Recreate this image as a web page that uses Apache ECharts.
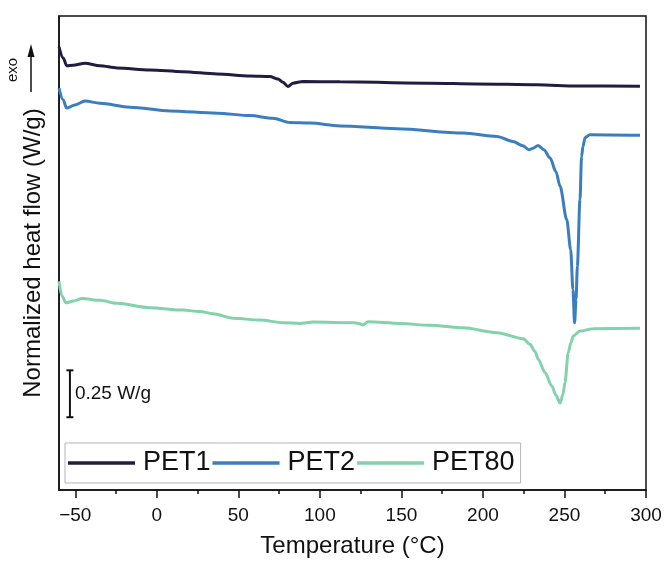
<!DOCTYPE html>
<html>
<head>
<meta charset="utf-8">
<script src="https://cdn.jsdelivr.net/npm/echarts@6/dist/echarts.min.js"></script>
<style>html,body{margin:0;padding:0;background:#fff}#c{width:665px;height:563px}</style>
</head>
<body>
<div id="c"></div>
<script>
// Temperature (°C) and normalized heat flow (W/g, offset for display)
const pet1T = [-60,-57.4,-55.3,-51.4,-44.1,-34.9,-24.4,-4.2,16.0,36.9,57.1,69.4,74.3,77.4,80.4,83.5,89.6,112.3,167.5,196.3,233.1,257.7,296.3];
const pet1V = [2.363,2.303,2.262,2.264,2.275,2.262,2.250,2.239,2.230,2.218,2.207,2.204,2.191,2.174,2.151,2.169,2.178,2.176,2.169,2.165,2.160,2.154,2.153];

const pet2T = [-60,-57.5,-55.3,-50.2,-44.1,-34.9,-16.5,8.1,36.9,57.1,71.2,81.7,93.9,112.3,147.3,187.8,208.6,218.4,224.5,228.2,230.7,233.8,237.4,241.1,244.8,247.3,251.4,253.8,255.2,256.2,257.1,257.9,259.5,260.5,261.3,262.6,265.6,296.3];
const pet2V = [2.142,2.080,2.036,2.053,2.074,2.062,2.041,2.021,2.009,1.996,1.982,1.959,1.956,1.941,1.926,1.903,1.885,1.858,1.835,1.814,1.822,1.837,1.814,1.771,1.697,1.619,1.441,1.282,1.069,0.891,1.016,1.193,1.548,1.778,1.830,1.878,1.894,1.891];

const pet80T = [-60,-58.2,-55.7,-51.4,-45.9,-34.9,-24.4,-4.2,16.0,26.5,34.4,46.7,63.3,77.4,87.8,95.8,121.5,124.6,126.4,129.5,149.1,167.5,187.8,208.6,224.6,228.9,231.9,233.9,238.1,242.2,244.8,247.3,249.1,250.3,252.3,254.0,255.4,259.5,267.5,296.3];
const pet80V = [1.113,1.034,0.998,1.007,1.021,1.011,0.995,0.972,0.959,0.951,0.940,0.916,0.906,0.892,0.888,0.895,0.892,0.886,0.879,0.897,0.888,0.878,0.865,0.839,0.807,0.777,0.739,0.697,0.626,0.555,0.505,0.463,0.511,0.573,0.732,0.787,0.821,0.847,0.860,0.862];

const seriesNames = ['PET1','PET2','PET80'];
const majorTicks = [-50,0,50,100,150,200,250,300];
const minorTicks = [-25,25,75,125,175,225,275];
const scaleBarValue = 0.25;   // W/g
const scaleBarLabel = '0.25 W/g';

const colors = ['#221d40','#3b7ec0','#82d2ab'];
const FONT = '"Liberation Sans", Arial, Helvetica, sans-serif';

function zip(t, v){ return t.map((x,i)=>[x, v[i]]); }

const chart = echarts.init(document.getElementById('c'), null, {renderer:'canvas'});

const lineSeries = [pet1T, pet2T, pet80T].map((t, i) => ({
  name: seriesNames[i],
  type: 'line',
  data: zip(t, [pet1V, pet2V, pet80V][i]),
  symbol: 'none',
  smooth: 0.3,
  smoothMonotone: 'x',
  lineStyle: {color: colors[i], width: 3},
  itemStyle: {color: colors[i]},
  z: 3
}));

const scaleBarSeries = {
  type: 'custom',
  name: 'scalebar',
  data: [[-53.3, 0.388]],
  silent: true,
  renderItem: function(params, api){
    const x = api.value(0), y0 = api.value(1);
    const p0 = api.coord([x, y0]);
    const p1 = api.coord([x, y0 + scaleBarValue]);
    const st = {stroke:'#111', lineWidth:2};
    return {type:'group', children:[
      {type:'line', shape:{x1:p0[0],y1:p0[1],x2:p1[0],y2:p1[1]}, style:st},
      {type:'line', shape:{x1:p0[0]-3.5,y1:p0[1],x2:p0[0]+3.5,y2:p0[1]}, style:st},
      {type:'line', shape:{x1:p1[0]-3.5,y1:p1[1],x2:p1[0]+3.5,y2:p1[1]}, style:st},
      {type:'text', x:p0[0]+5, y:(p0[1]+p1[1])/2, style:{text:scaleBarLabel, fill:'#111', font:'19px ' + FONT, textVerticalAlign:'middle', textAlign:'left'}}
    ]};
  }
};

chart.setOption({
  animation: false,
  color: colors,
  grid: {left:59, right:19, top:16, bottom:72, show:true, borderColor:'#111', borderWidth:1.5, backgroundColor:'transparent'},
  legend: {
    data: seriesNames,
    icon: 'rect',
    left: 65, top: 443,
    orient: 'horizontal',
    itemWidth: 67, itemHeight: 3.5, itemGap: 2,
    padding: [4, 6, 4, 3],
    borderColor: '#b5b5b5', borderWidth: 1,
    textStyle: {fontSize: 27, fontFamily: FONT, color:'#111', padding:[0,0,0,3], lineHeight: 32}
  },
  xAxis: [{
    type: 'value', min: -60, max: 300, position: 'bottom',
    name: 'Temperature (°C)', nameLocation: 'middle', nameGap: 44,
    nameTextStyle: {fontSize: 24, fontFamily: FONT, color:'#111'},
    axisLine: {show:true, onZero:false, lineStyle:{color:'#111', width:1.5}},
    axisTick: {show:true, inside:false, length:8, customValues: majorTicks, lineStyle:{color:'#111', width:1.5}},
    axisLabel: {show:true, margin:16, fontSize:19, fontFamily: FONT, color:'#111', customValues: majorTicks,
      formatter: v => (v < 0 ? '\u2212' + Math.abs(v) : String(v))},
    splitLine: {show:false}
  },{
    type: 'value', min: -60, max: 300, position: 'bottom',
    axisLine: {show:false, onZero:false},
    axisTick: {show:true, inside:false, length:4, customValues: minorTicks, lineStyle:{color:'#111', width:1.5}},
    axisLabel: {show:false},
    splitLine: {show:false}
  }],
  yAxis: {
    type: 'value', min: 0, max: 2.527,
    name: 'Normalized heat flow (W/g)', nameLocation: 'middle', nameGap: 14, nameRotate: 90,
    nameTextStyle: {fontSize: 24, fontFamily: FONT, color:'#111'},
    axisLine: {show:true, onZero:false, lineStyle:{color:'#111', width:1.5}},
    axisTick: {show:false},
    axisLabel: {show:false},
    splitLine: {show:false}
  },
  graphic: [
    {type:'text', x:13, y:70, rotation: Math.PI/2, style:{text:'exo', font:'15px ' + FONT, fill:'#111', textAlign:'center', textVerticalAlign:'middle'}},
    {type:'line', shape:{x1:31, y1:92, x2:31, y2:55}, style:{stroke:'#111', lineWidth:1.5}},
    {type:'polygon', shape:{points:[[31,44],[27.5,57],[34.5,57]]}, style:{fill:'#111'}}
  ],
  series: lineSeries.concat([scaleBarSeries])
});
</script>
</body>
</html>
